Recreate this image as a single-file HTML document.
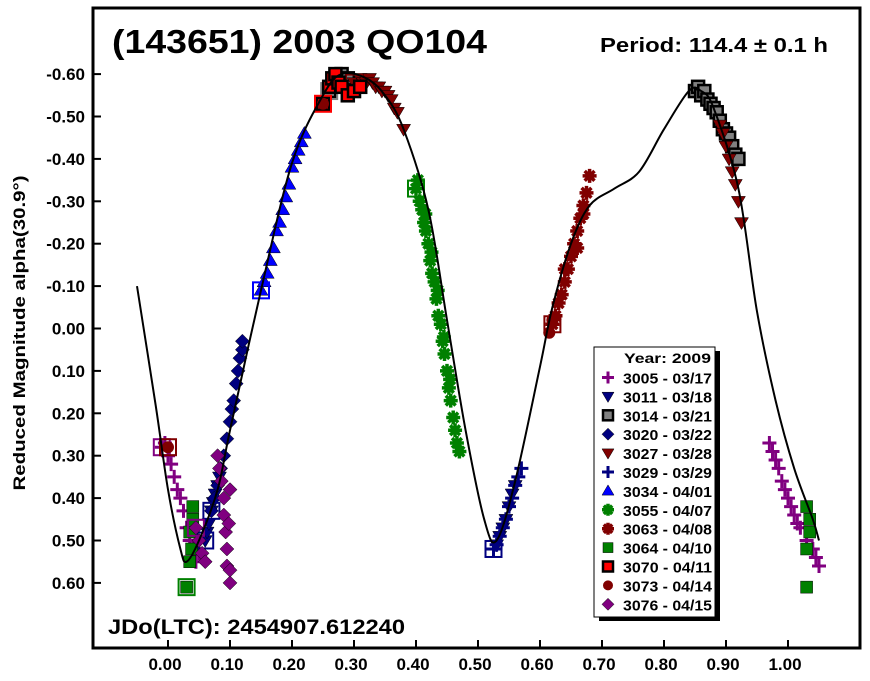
<!DOCTYPE html>
<html><head><meta charset="utf-8"><style>
body{margin:0;background:#fff;}
svg text{font-family:"Liberation Sans",Arial,sans-serif;font-weight:bold;}
</style></head><body>
<svg id="chart" width="870" height="676" xmlns="http://www.w3.org/2000/svg">
<rect x="0" y="0" width="870" height="676" fill="#fff"/>
<g id="plot"></g>
<rect x="93" y="8" width="767" height="640" fill="none" stroke="#000" stroke-width="3"/>
<g id="axes"></g>
<text x="112" y="53" font-size="33" textLength="375" lengthAdjust="spacingAndGlyphs">(143651) 2003 QO104</text>
<text x="600" y="52" font-size="20" textLength="228" lengthAdjust="spacingAndGlyphs">Period: 114.4 ± 0.1 h</text>
<text x="108" y="634" font-size="21" textLength="297" lengthAdjust="spacingAndGlyphs">JDo(LTC): 2454907.612240</text>
<text transform="translate(25,333) rotate(-90)" font-size="17" text-anchor="middle" textLength="315" lengthAdjust="spacingAndGlyphs">Reduced Magnitude alpha(30.9°)</text>
<g id="legend"></g>
</svg>
<script>
const xTicks=[0,0.1,0.2,0.3,0.4,0.5,0.6,0.7,0.8,0.9,1.0];
const yTicks=[-0.6,-0.5,-0.4,-0.3,-0.2,-0.1,0,0.1,0.2,0.3,0.4,0.5,0.6];
const curvePhase=[-0.05,-0.02,0.0,0.02,0.03,0.05,0.08,0.10,0.15,0.20,0.25,0.28,0.32,0.35,0.38,0.42,0.45,0.48,0.51,0.53,0.56,0.60,0.62,0.65,0.68,0.72,0.76,0.80,0.84,0.86,0.88,0.92,0.95,0.98,1.01,1.04,1.05];
const curveMag=[-0.10,0.18,0.38,0.52,0.55,0.50,0.38,0.24,-0.09,-0.39,-0.55,-0.60,-0.59,-0.55,-0.47,-0.28,-0.02,0.24,0.45,0.50,0.36,0.09,-0.05,-0.20,-0.29,-0.33,-0.37,-0.47,-0.56,-0.56,-0.52,-0.33,-0.04,0.17,0.33,0.45,0.50];
const names=["3005 - 03/17","3011 - 03/18","3014 - 03/21","3020 - 03/22","3027 - 03/28","3029 - 03/29","3034 - 04/01","3055 - 04/07","3063 - 04/08","3064 - 04/10","3070 - 04/11","3073 - 04/14","3076 - 04/15"];
const s3005p=[-0.01,-0.005,0.0,0.005,0.01,0.015,0.02,0.025,0.03,0.035,0.04,0.045,0.05,0.97,0.975,0.98,0.985,0.99,0.995,1.0,1.005,1.01,1.015,1.02,1.03,1.04,1.045,1.05];
const s3005m=[0.28,0.27,0.30,0.32,0.35,0.38,0.40,0.43,0.47,0.50,0.52,0.55,0.53,0.27,0.29,0.31,0.33,0.36,0.38,0.40,0.42,0.44,0.46,0.47,0.50,0.52,0.54,0.56];
const s3011p=[0.06,0.063,0.066,0.07,0.073,0.076,0.08,0.083,0.53,0.535,0.54,0.545,0.55,0.555,0.56];
const s3011m=[0.50,0.48,0.46,0.43,0.41,0.39,0.37,0.35,0.51,0.49,0.47,0.45,0.42,0.39,0.37];
const s3014p=[0.26,0.27,0.28,0.29,0.85,0.855,0.86,0.865,0.87,0.875,0.88,0.885,0.89,0.895,0.90,0.905,0.91,0.915,0.92];
const s3014m=[-0.56,-0.59,-0.60,-0.59,-0.56,-0.57,-0.55,-0.56,-0.54,-0.53,-0.52,-0.51,-0.49,-0.47,-0.46,-0.45,-0.43,-0.41,-0.40];
const s3020p=[0.07,0.075,0.08,0.085,0.09,0.095,0.10,0.103,0.106,0.11,0.113,0.116,0.12,0.12];
const s3020m=[0.43,0.40,0.37,0.33,0.30,0.26,0.22,0.19,0.17,0.13,0.10,0.07,0.05,0.03];
const s3027p=[0.30,0.31,0.315,0.32,0.325,0.33,0.335,0.34,0.345,0.35,0.355,0.36,0.365,0.37,0.38,0.89,0.895,0.90,0.905,0.91,0.915,0.92,0.925];
const s3027m=[-0.58,-0.59,-0.58,-0.58,-0.59,-0.58,-0.57,-0.57,-0.56,-0.56,-0.55,-0.54,-0.52,-0.51,-0.47,-0.48,-0.46,-0.43,-0.40,-0.37,-0.34,-0.30,-0.25];
const s3029p=[0.525,0.53,0.535,0.54,0.545,0.55,0.555,0.56,0.565,0.57];
const s3029m=[0.52,0.51,0.49,0.47,0.45,0.42,0.40,0.37,0.35,0.33];
const s3034p=[0.15,0.155,0.16,0.165,0.17,0.175,0.18,0.185,0.19,0.195,0.20,0.205,0.21,0.215,0.22];
const s3034m=[-0.09,-0.11,-0.13,-0.16,-0.19,-0.23,-0.25,-0.28,-0.31,-0.34,-0.38,-0.40,-0.42,-0.44,-0.46];
const s3055p=[0.40,0.403,0.406,0.41,0.413,0.416,0.42,0.423,0.426,0.43,0.433,0.436,0.44,0.443,0.446,0.45,0.453,0.456,0.46,0.463,0.466,0.47,0.415,0.425,0.435,0.445,0.455];
const s3055m=[-0.33,-0.35,-0.30,-0.28,-0.25,-0.23,-0.20,-0.16,-0.13,-0.11,-0.07,-0.03,-0.01,0.03,0.06,0.10,0.14,0.17,0.21,0.24,0.27,0.29,-0.27,-0.18,-0.09,0.02,0.12];
const s3063p=[0.62,0.625,0.63,0.635,0.64,0.645,0.65,0.655,0.66,0.665,0.67,0.675,0.68,0.64,0.66,0.67];
const s3063m=[-0.01,-0.03,-0.06,-0.08,-0.11,-0.14,-0.17,-0.20,-0.23,-0.26,-0.29,-0.32,-0.36,-0.14,-0.19,-0.27];
const s3064p=[0.03,0.035,0.035,0.04,0.04,0.038,1.03,1.03,1.035,1.03,1.035];
const s3064m=[0.61,0.55,0.48,0.42,0.45,0.52,0.61,0.52,0.45,0.42,0.48];
const s3070p=[0.25,0.26,0.265,0.27,0.275,0.28,0.29,0.30,0.31];
const s3070m=[-0.53,-0.57,-0.59,-0.60,-0.58,-0.57,-0.55,-0.56,-0.57];
const s3073p=[0.0,0.25,0.615,0.62];
const s3073m=[0.28,-0.53,0.01,-0.02];
const s3076p=[0.045,0.05,0.055,0.06,0.08,0.083,0.086,0.09,0.09,0.093,0.095,0.095,0.10,0.10,0.10,0.098];
const s3076m=[0.47,0.50,0.53,0.55,0.30,0.33,0.36,0.40,0.44,0.48,0.52,0.56,0.60,0.38,0.57,0.46];
const series=[
 {p:s3005p,m:s3005m,shape:"plus",c:"#800080"},
 {p:s3011p,m:s3011m,shape:"tridown",c:"#000080"},
 {p:s3014p,m:s3014m,shape:"square",c:"#808080",st:"#000"},
 {p:s3020p,m:s3020m,shape:"diamond",c:"#000080"},
 {p:s3027p,m:s3027m,shape:"tridown",c:"#800000"},
 {p:s3029p,m:s3029m,shape:"plus",c:"#000080"},
 {p:s3034p,m:s3034m,shape:"triup",c:"#0000ff"},
 {p:s3055p,m:s3055m,shape:"star",c:"#008000"},
 {p:s3063p,m:s3063m,shape:"star",c:"#800000"},
 {p:s3064p,m:s3064m,shape:"square",c:"#008000"},
 {p:s3070p,m:s3070m,shape:"square",c:"#ff0000",st:"#000"},
 {p:s3073p,m:s3073m,shape:"circle",c:"#800000"},
 {p:s3076p,m:s3076m,shape:"diamond",c:"#800080"}
];
const NS="http://www.w3.org/2000/svg";
function X(p){return 168+620*p;}
function Y(m){return 328.5+424*m;}
function mk(tag,attrs,parent){const e=document.createElementNS(NS,tag);for(const k in attrs)e.setAttribute(k,attrs[k]);parent.appendChild(e);return e;}
function marker(shape,cx,cy,c,st,parent,r){
 r=r||7;let e;
 if(shape==="plus"){e=mk("path",{d:`M${cx-r} ${cy}H${cx+r}M${cx} ${cy-r}V${cy+r}`,stroke:c,"stroke-width":3,fill:"none"},parent);}
 else if(shape==="tridown"){e=mk("polygon",{points:`${cx-r},${cy-r*0.7} ${cx+r},${cy-r*0.7} ${cx},${cy+r}`,fill:c,stroke:"#000","stroke-width":0.5},parent);}
 else if(shape==="triup"){e=mk("polygon",{points:`${cx-r},${cy+r*0.7} ${cx+r},${cy+r*0.7} ${cx},${cy-r}`,fill:c,stroke:"#000","stroke-width":0.5},parent);}
 else if(shape==="square"){e=mk("rect",{x:cx-r+1,y:cy-r+1,width:2*r-2,height:2*r-2,fill:c,stroke:st||"#000","stroke-width":st?2.5:0.5},parent);}
 else if(shape==="diamond"){e=mk("polygon",{points:`${cx},${cy-r} ${cx+r},${cy} ${cx},${cy+r} ${cx-r},${cy}`,fill:c,stroke:"#000","stroke-width":0.5},parent);}
 else if(shape==="circle"){e=mk("circle",{cx:cx,cy:cy,r:r-1,fill:c},parent);}
 else {e=mk("path",{d:`M${cx-r} ${cy}H${cx+r}M${cx} ${cy-r}V${cy+r}M${cx-r*0.7} ${cy-r*0.7}L${cx+r*0.7} ${cy+r*0.7}M${cx-r*0.7} ${cy+r*0.7}L${cx+r*0.7} ${cy-r*0.7}`,stroke:c,"stroke-width":3.5,fill:"none"},parent);}
 return e;
}
const plot=document.getElementById("plot");
// smooth curve (Catmull-Rom)
const pts=curvePhase.map((p,i)=>[X(p),Y(curveMag[i])]);
let d="M"+pts[0][0].toFixed(1)+" "+pts[0][1].toFixed(1);
for(let i=0;i<pts.length-1;i++){
 const p0=pts[Math.max(i-1,0)],p1=pts[i],p2=pts[i+1],p3=pts[Math.min(i+2,pts.length-1)];
 const c1=[p1[0]+(p2[0]-p0[0])/6,p1[1]+(p2[1]-p0[1])/6];
 const c2=[p2[0]-(p3[0]-p1[0])/6,p2[1]-(p3[1]-p1[1])/6];
 d+=`C${c1[0].toFixed(1)} ${c1[1].toFixed(1)} ${c2[0].toFixed(1)} ${c2[1].toFixed(1)} ${p2[0].toFixed(1)} ${p2[1].toFixed(1)}`;
}
series.forEach((s,i)=>{
 const g=mk("g",{},plot);
 
 
 for(let j=0;j<s.p.length;j++){
  const e=marker(s.shape,X(s.p[j]),Y(s.m[j]),s.c,s.st,g);
  
  
 }
 const o=mk("rect",{x:X(s.p[0])-8,y:Y(s.m[0])-8,width:16,height:16,fill:"none",stroke:s.c,"stroke-width":2},g);
 
 
});
const fit=mk("path",{d:d,fill:"none",stroke:"#000","stroke-width":2,"stroke-linejoin":"round"},plot);


const axes=document.getElementById("axes");
xTicks.forEach(t=>{
 const l=mk("line",{x1:X(t),x2:X(t),y1:640,y2:648,stroke:"#000","stroke-width":2},axes);
 
 
 const tx=mk("text",{x:X(t)-3,y:670,"font-size":17,"text-anchor":"middle"},axes);
 tx.textContent=t.toFixed(2);
 
 
});
yTicks.forEach(t=>{
 const l=mk("line",{x1:93,x2:101,y1:Y(t),y2:Y(t),stroke:"#000","stroke-width":2},axes);
 
 
 const tx=mk("text",{x:85,y:Y(t)+6,"font-size":17,"text-anchor":"end"},axes);
 tx.textContent=t.toFixed(2);
 
 
});
const lg=document.getElementById("legend");
mk("rect",{x:599,y:351,width:121,height:270,fill:"#000"},lg);
mk("rect",{x:594,y:347,width:121,height:270,fill:"#fff",stroke:"#000","stroke-width":1},lg);
const yt=mk("text",{x:624,y:363,"font-size":14,textLength:87,lengthAdjust:"spacingAndGlyphs"},lg);yt.textContent="Year: 2009";
series.forEach((s,i)=>{
 const yy=377.5+i*18.9;
 marker(s.shape,608,yy,s.c,s.st,lg,6);
 const t=mk("text",{x:623,y:yy+6,"font-size":15,textLength:89,lengthAdjust:"spacingAndGlyphs"},lg);
 t.textContent=names[i];
 
 
});
</script>
</body></html>
